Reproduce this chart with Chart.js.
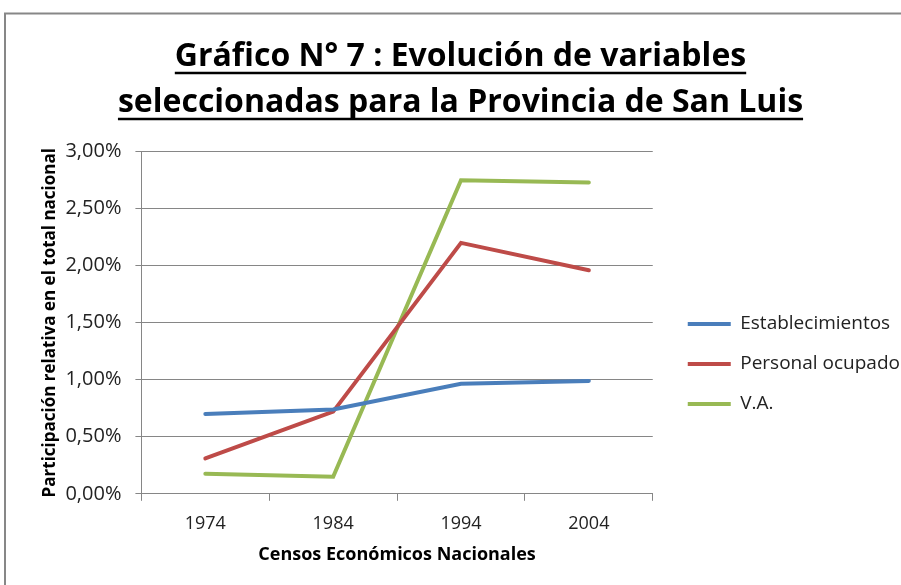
<!DOCTYPE html>
<html>
<head>
<meta charset="utf-8">
<script src="https://cdn.jsdelivr.net/npm/chart.js@4"></script>
<style>
  html, body { margin: 0; padding: 0; background: #fff; }
  #wrap { width: 901px; height: 585px; }
</style>
</head>
<body>
<div id="wrap"><canvas id="chart"></canvas></div>
<script>
// data (percent of national total)
const years = ["1974", "1984", "1994", "2004"];
const establecimientos = [0.70, 0.74, 0.965, 0.99];
const personalOcupado = [0.31, 0.72, 2.20, 1.96];
const valorAgregado = [0.175, 0.15, 2.75, 2.73];
const seriesNames = ["Establecimientos", "Personal ocupado", "V.A."];
const titleLines = ["Gráfico N° 7 : Evolución de variables", "seleccionadas para la Provincia de San Luis"];
const yTitle = "Participación relativa en el total nacional";
const xTitle = "Censos Económicos Nacionales";

const FONT = "'Open Sans', sans-serif";
const GRID = "#868686";
const LEGEND_EXTRA = 23; // legend box wider than chart.js allows by default
const LEGEND_SHIFT = 14; // move legend items away from the plot
const LEGEND_DROP = 79;  // legend sits lower than chart.js centres it

// grey frame, legend nudge and underlined title
const framePlugin = {
  id: "framePlugin",
  beforeLayout(chart) {
    let lg = chart.legend;
    if (lg && !lg._patched) {
      let fit = lg.fit.bind(lg);
      lg.fit = function () { fit(); this.width += LEGEND_EXTRA; };
      lg._patched = true;
    }
  },
  afterLayout(chart) {
    let lg = chart.legend;
    lg.left += LEGEND_SHIFT;
    lg.right += LEGEND_SHIFT;
    lg.top += LEGEND_DROP;
    lg.bottom += LEGEND_DROP;
  },
  beforeDraw(chart) {
    let ctx = chart.ctx;
    ctx.save();
    ctx.fillStyle = "#fff";
    ctx.fillRect(0, 0, chart.width, chart.height);
    ctx.strokeStyle = "#878787";
    ctx.lineWidth = 2;
    ctx.strokeRect(5, 13.5, chart.width + 20, chart.height + 20);
    ctx.restore();
  },
  afterDraw(chart) {
    let t = chart.titleBlock;
    let ctx = chart.ctx;
    let font = Chart.helpers.toFont(t.options.font);
    ctx.save();
    ctx.font = font.string;
    ctx.strokeStyle = "#000";
    ctx.lineWidth = 2.5;
    let cx = (t.left + t.right) / 2;
    titleLines.forEach((line, i) => {
      let w = ctx.measureText(line).width;
      let y = t.top + t._padding.top + font.lineHeight * (i + 0.5) + font.size * 0.5;
      ctx.beginPath();
      ctx.moveTo(cx - w / 2, y);
      ctx.lineTo(cx + w / 2, y);
      ctx.stroke();
    });
    ctx.restore();
  }
};

let chart = new Chart(document.getElementById("chart"), {
  type: "line",
  data: {
    labels: years,
    datasets: [
      { label: seriesNames[0], data: establecimientos, borderColor: "#4a7ebb", backgroundColor: "#4a7ebb" },
      { label: seriesNames[1], data: personalOcupado, borderColor: "#be4b48", backgroundColor: "#be4b48" },
      { label: seriesNames[2], data: valorAgregado, borderColor: "#98b954", backgroundColor: "#98b954" }
    ].map(d => Object.assign(d, { borderWidth: 4, pointRadius: 0, tension: 0, fill: false, borderCapStyle: "round" }))
  },
  options: {
    responsive: true,
    maintainAspectRatio: false,
    animation: false,
    layout: { padding: { left: 30, right: 10, top: 0, bottom: 15 } },
    plugins: {
      title: {
        display: true,
        text: titleLines,
        color: "#000",
        font: { family: FONT, size: 32, weight: "bold", lineHeight: 1.44 },
        padding: { top: 34, bottom: 25.5 }
      },
      legend: {
        position: "right",
        labels: {
          usePointStyle: true,
          pointStyle: "line",
          pointStyleWidth: 43,
          boxHeight: 4,
          padding: 21,
          color: "#222",
          font: { family: FONT, size: 19 }
        }
      },
      tooltip: { enabled: false }
    },
    scales: {
      x: {
        offset: true,
        grid: { offset: true, drawOnChartArea: false, tickLength: 7, color: GRID },
        border: { color: GRID },
        ticks: { color: "#222", font: { family: FONT, size: 18 }, padding: 12 },
        title: { display: true, text: xTitle, color: "#000", font: { family: FONT, size: 18, weight: "bold" }, padding: { top: -2, bottom: 4 } }
      },
      y: {
        min: 0,
        max: 3,
        ticks: {
          stepSize: 0.5,
          color: "#222",
          font: { family: FONT, size: 20 },
          padding: 14,
          callback: v => v.toFixed(2).replace(".", ",") + "%"
        },
        grid: { color: GRID, tickLength: 6 },
        border: { color: GRID },
        title: { display: true, text: yTitle, color: "#000", font: { family: FONT, size: 17, weight: "bold" }, padding: { top: 10, bottom: -9 } }
      }
    }
  },
  plugins: [framePlugin]
});
</script>
</body>
</html>
